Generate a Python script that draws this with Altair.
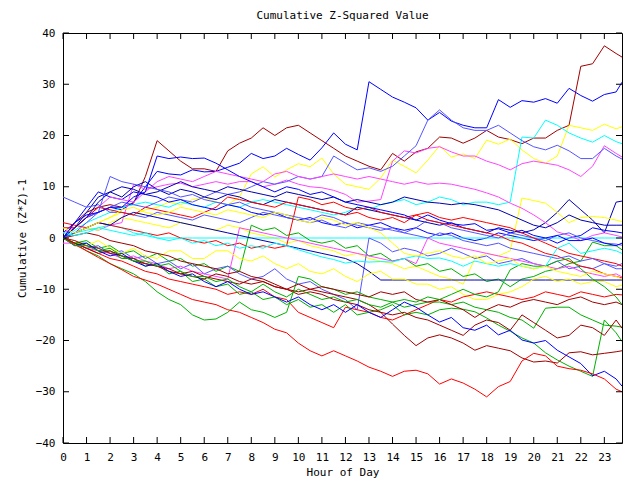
import altair as alt
import pandas as pd

hours = [0, 0.5, 1, 1.5, 2, 2.5, 3, 3.5, 4, 4.5, 5, 5.5, 6, 6.5, 7, 7.5, 8, 8.5, 9, 9.5,
         10, 10.5, 11, 11.5, 12, 12.5, 13, 13.5, 14, 14.5, 15, 15.5, 16, 16.5, 17, 17.5,
         18, 18.5, 19, 19.5, 20, 20.5, 21, 21.5, 22, 22.5, 23, 23.5, 23.75]
x_ticks = [0, 1, 2, 3, 4, 5, 6, 7, 8, 9, 10, 11, 12, 13, 14, 15, 16, 17, 18, 19, 20, 21, 22, 23]
y_ticks = [-40, -30, -20, -10, 0, 10, 20, 30, 40]

C_RED = "#ff0000"
C_GREEN = "#00b000"
C_BLUE = "#0000ff"
C_MAG = "#ff44ff"
C_CYAN = "#00ffff"
C_DRED = "#a00000"
C_YEL = "#ffff00"
C_MBLUE = "#5555ff"
C_DBLUE = "#0000b0"

s01 = [0, 3, 5, 6, 6.5, 6, 6.8, 12, 19, 17, 15, 13.5, 13.5, 13, 17, 18.5, 19.5, 21.5, 20, 21.5,
       22, 20.5, 19, 17.5, 16, 15, 14, 13.3, 16.5, 15, 16.8, 17.5, 19.7, 19.5, 18.5, 19.5, 21, 19.7, 19.2, 18.4,
       19.5, 19.5, 21, 22, 33.5, 34, 37.5, 36, 35.3]
s02 = [0, 2, 4, 5, 6, 5.5, 7, 10, 13, 12.5, 12.3, 13.3, 12.9, 13, 13.8, 14.6, 16.5, 15.5, 16, 17.5,
       16.3, 15.2, 17.6, 20.5, 18.3, 17.2, 30.5, 29, 27.5, 26.5, 25.4, 23, 24.5, 22.8, 22, 21.5, 21.5, 27, 25.5, 26.8,
       26.5, 27.2, 26.3, 29.2, 27.8, 26.7, 28, 28.5, 30.4]
s03 = [0, 1, 2, 3, 4, 5, 4.5, 5.5, 6, 7, 6.5, 7.5, 8, 7, 6.5, 8, 12.5, 13.9, 11.9, 13.3,
       14.5, 13.9, 15.6, 12.5, 10.5, 10, 9.5, 11.7, 15.2, 14, 12.7, 15.2, 18, 15.8, 16.4, 15.5, 19.1, 18.3, 19.3, 17.2,
       15.5, 14.6, 16, 22, 21.5, 21, 22.2, 21.3, 21.7]
s04 = [0, 1.5, 3, 4, 5, 6, 6.5, 7, 6.5, 6, 7, 6.5, 6, 7, 6.5, 6, 7, 7.5, 7, 6.5,
       6, 5.5, 5, 4.5, 5, 6, 5.5, 6.5, 7, 7.5, 6.5, 7, 8, 7.5, 6.5, 7, 7, 6.5, 7, 19.7,
       19.5, 23, 22, 20.5, 19.5, 18.7, 20, 18.8, 18.4]
s05 = [0, 1, 2, 1.5, 2.5, 3, 10.5, 9.5, 10, 10.5, 10.7, 10, 10.5, 11, 10.5, 11, 11, 10, 10.5, 11.3,
       10.5, 10, 9.8, 9.3, 8.5, 7, 7.2, 7.5, 15, 17, 16.6, 17.5, 17.8, 16.8, 16, 16, 15, 14.3, 13.3, 14.5,
       15, 14.6, 14.2, 13.3, 12, 14, 18, 16.5, 15.8]
s06 = [0, 2, 4, 5, 6, 7, 6.5, 6, 7, 8, 7.5, 7, 8, 9, 8.5, 9, 10, 11, 10.5, 11,
       12, 11.5, 12, 16, 14.6, 13.3, 13.7, 13, 14, 16, 18, 23, 25, 23, 21.5, 21, 21, 22, 20.5, 19,
       17.8, 17.2, 18.1, 17, 15.5, 15.5, 17.5, 16, 15.4]
s07 = [0, 2, 5, 8, 9, 8, 10, 11, 9.5, 8.5, 9.5, 9, 8, 7.5, 8.5, 8, 7, 6.5, 7.5, 7,
       6.5, 6, 5.5, 5, 4.5, 6, 5.5, 5, 4.5, 4, 3.5, 3, 2.5, 3, 2, 1.5, 1, 2, 1.5, 1,
       1.6, 3, 5, 7.5, 5.5, 3.5, 1, 7, 7.2]
s08 = [0, 1, 2, 1.5, 3, 4, 3.5, 3, 2.5, 2, 3, 2.5, 2, 1.5, 2.5, 2, 1, 0.5, 0, -1,
       -0.5, -1.5, -2, -2.5, -3.5, -3, -4, -4.5, -5, -6, -5.5, -6.5, -7.5, -8, -9, -4, -3, -3.5, -2.5, 7.8,
       7.3, 6.8, 5, 3, 4, 4.2, 4, 3.5, 3.2]
s09 = [1, 3, 6, 9, 8, 7.5, 9, 8.5, 8, 7, 7.5, 6.5, 6, 5.5, 6.5, 6, 5, 4.5, 5, 4,
       3.5, 4, 3, 2.5, 3, 2, 2.5, 3, 2, 1.5, 2, 1, 0.5, 1, 0, -0.5, 0, 1, 0.5, 0,
       -0.5, 0, -1, 0, 0.5, 2, 1.5, 1.2, 1.0]
s10 = [0, 1, 1.5, 2, 2.5, 2, 1, 0.5, 0, 0, 0, 0, 0, 0, 0, 0, 0, 0, 0, 0,
       0, 0, 0, 0, 0, 0, 0, 0, 0, 0, 0, 0, 0, 0, 0, 0, 0, 0, 0, 0,
       0, 0, 0, 0, 0, 0, 0, 0, 0]
s11 = [1, 2, 4, 6, 8, 7.5, 7, 9, 11, 12, 11.5, 11, 12, 13, 12.5, 12, 11.5, 11, 12.5, 13,
       12, 11.5, 12, 12.5, 12, 11.5, 12, 11.5, 11, 10.5, 11, 10.5, 10.7, 10.5, 10, 9.5, 8.8, 8, 6.8, 5.8,
       4.5, 3, 1.2, 0.5, -0.5, 0.5, 1, 0.5, 0.2]
s12 = [8, 7, 6, 6.5, 5, 5, 4.5, 4, 5, 4.5, 4, 3.5, 4.5, 4, 3.5, 3, 4, 5, 4.5, 4,
       3.5, 3, 3.5, 2.5, 2, 3, 2.5, 2, 1.5, 1, 2, 3.5, 3, 2, 1.5, 1, 0.5, 0, 1, 0.5,
       0, -0.5, 0.5, 1, 0, -0.5, -1, -1.2, -1.4]
s13 = [0, -1, -0.5, -2, -1.5, -3, -2.5, -4, -3, -4.5, -4, -5.5, -5, -6.5, -5.5, -6.5, 2.5, 1.5, 2, 0.5,
       1, -0.5, -1, -0.5, -2, -1.5, -3.5, -3, -4.5, -4, -5.5, -5, -6.5, -6, -7.5, -7, -8.5, -8, -9.5, -8,
       -7.5, -6.5, -6, -5, -4.5, -0.8, -1.5, -1.5, -2.3]
s14 = [0, -1, -2, -1.5, -3, -2.5, -4, -3.5, -5, -4.5, -6, -5, -7, -6, -5.5, -7, -8, -7.5, -6, -8,
       -9, -8.5, -10, -11, -12, -14, 0, -1, -2.7, -2, -2.5, -3.5, -3, -2, -3, -4, -3.5, -5, -4.5, -4,
       -5, -5.5, -4.5, -6, -5.5, -6, -5, -5.5, -5]
s15 = [3, 2.5, 2, 3, 2.5, 2, 1.5, 1, 0.5, 1, 0, -0.5, -1, -0.5, -1.5, -1, -2, -1.5, -2, -1.5,
       8, 7.5, 6.5, 7, 6, 5.5, 6, 5, 4.5, 4, 4.5, 3.5, 3, 2.5, 2, 1.5, 1, 0.5, -0.5, -1,
       -2, -3, -3.5, -4.5, -5.5, -6, -7, -7.5, -7.8]
s16 = [-1, -1, -2, -2.5, -3, -4, -3.5, -4.5, -5, -6, -5.5, -6.5, -7, -7.5, -8, 2, 1.5, 1, 0.5, 0,
       -0.5, -1, -1.5, -2, -2.5, -3, -3.5, -4, -4.5, -4, -5, 0, -1, -1.5, -2, -2.5, -3, -3.5, -4, -4.5,
       -5, -5.5, -6, -5.5, -6.5, -7, -7.5, -7, -7.6]
s17 = [0, 1, 2, 3, 2.5, 4, 5, 4.5, 4, 3.5, 3, 2.5, 2, 1.5, 1, 0.5, 0, -0.5, -1, -1.5,
       -2, -2.5, -3, -3.5, -4, -5, -6.5, -8.2, -8.2, -8.2, -8.2, -8.2, -8.2, -8.2, -8.2, -8.2, -8.2, -8.2, -8.2, -8.2,
       -8.2, -8.2, -8.2, -8.2, -8.2, -8.2, -8.2, -8.2, -8.2]
s18 = [0, -1, -1.5, -0.5, -2, -3, -2, -3.5, -4, -2.5, -2.5, -4, -4, -2.5, -2.5, -4, -4.5, -3.5, -5, -6,
       -5, -6.5, -7, -6, -7.5, -8.5, -7, -6.5, -8, -8, -9, -9, -10, -9.5, -11, -12, -12, -11, -10.5, -9.5,
       -8, -7.5, -8.5, -8, -9, -8.5, -8.5, -9.5, -9.2]
s19 = [0, -1, -2, -3, -4, -4.5, -5.5, -6.5, -7, -8, -8.5, -9, -9.5, -10, -11, -10.5, -11, -10, -11.5, -12,
       -14.5, -15.5, -16.5, -17.5, -13.5, -14, -14.5, -15.5, -16, -15, -14, -13, -12, -12.5, -11.5, -11, -10.5, -11, -11.5, -12,
       -11.5, -10.5, -11, -11.5, -10.5, -11, -11.5, -11, -11.1]
s20 = [0, -1, -2.5, -3.5, -5, -6, -7, -8.5, -10.5, -12, -13, -15, -16, -15.8, -14.5, -12.5, -14, -14.5, -15.5, -14.5,
       -7.5, -8, -9.5, -10, -11, -10.5, -11.5, -12, -12.5, -13.5, -13, -12.5, -12.5, -13, -12.5, -13.5, -14, -14.5, -15.5, -16,
       -17.6, -13.7, -13.5, -13.5, -15, -16, -17, -17.2, -17.4]
s21 = [0, -1, -1, -2.5, -2.5, -4, -4, -5.5, -5, -7, -6.5, -8.5, -8, -9.5, -9, -11, -10.5, -12, -11.5, -13,
       -12, -13.5, -13, -14.5, -13, -15, -14.5, -14, -13, -15, -14.5, -15, -14, -13.7, -13.9, -14.4, -15.6, -17, -18.2, -19.5,
       -20.5, -22.4, -23.8, -25, -26, -27, -16, -18.5, -20.2]
s22 = [0, -1, -2, -3, -2.5, -3.5, -4, -5, -5.5, -6, -7, -7.5, -8, -7, -7.5, -8.5, -9, -8.5, -9.5, -10,
       -11, -10.5, -11, -12, -12.5, -13, -14, -14.5, -15, -14.5, -15.5, -16, -17, -18, -19, -17, -16, -16.5, -18, -15,
       -16.5, -18, -19.5, -19, -17, -17.5, -19, -16, -17.6]
s23 = [0, -0.5, -1.5, -2, -3, -3.5, -4.5, -5, -5.5, -6.5, -7, -6.5, -7.5, -8, -8.5, -9, -8, -8.5, -9.5, -10,
       -9, -10, -10.5, -11, -11.5, -12, -13, -14.5, -16.8, -19, -21, -19.5, -18.9, -19.5, -20.5, -21.9, -21, -21.5, -22, -23.4,
       -24.2, -24, -24.4, -22.4, -22.2, -22.8, -22.5, -22.2, -22]
s24 = [0, -1.5, -1, -2.5, -3.5, -3, -4.5, -5.5, -5, -6.5, -7.5, -7, -8.5, -9.5, -8.5, -10, -11, -10.5, -11.5, -12.5,
       -11.5, -13, -14, -13, -14.5, -13, -14.5, -15.5, -14, -12.5, -13.5, -15, -16.4, -15.5, -17.5, -18, -17, -18.9, -18, -19.9,
       -20.5, -20, -21.9, -23.2, -24.5, -26.9, -26, -27.5, -28.9]
s25 = [0, -1.3, -2.5, -3.8, -5, -6.2, -7.5, -8.2, -9, -10, -11, -12, -12.5, -13, -14, -14.5, -15.5, -16.5, -17.8, -18.5,
       -20.5, -22, -23, -22, -23, -24, -25.2, -26, -27, -26, -25.8, -26.5, -28.5, -27.5, -28.3, -29.5, -31, -29, -28, -24,
       -22.5, -23, -25, -25.5, -25.8, -26.5, -27.5, -29.5, -30]
s26 = [2, 2, 4, 6, 5.5, 5, 4.5, 6, 5.5, 5, 4.5, 4, 5, 6, 8, 7.5, 7, 6.5, 6, 7,
       6.5, 6, 5.5, 5, 4.5, 5, 4, 3.5, 4, 3, 4.5, 5, 4, 3.5, 4, 3.5, 3, 2.5, 2, 1,
       0, -1, -2, -3, -3.5, -4, -4.5, -5, -5.5]
s27 = [0, 0.5, 1, 0.5, -0.5, -1, -1.5, -2.5, -3, -3.5, -4.5, -5, -5.5, -6, -7, -6.5, -7.5, -8, -9, -10,
       -10.5, -10, -9.5, -10, -10.5, -11, -11.5, -10.5, -11, -10.5, -12, -12.5, -12, -13, -14, -15.5, -14, -13, -13.5, -12.5,
       -12, -12.5, -13, -12, -11.5, -12.5, -13, -12.5, -13]
s28 = [0, -1.5, -1.5, -2.5, -2, -3.5, -4.5, -4.5, -5.5, -5, -6.5, -7.5, -7.5, -8.5, -8, -9.5, -10.5, -9, -10.5, -11.5,
       -10, -11, -12, -11.5, -12.5, -12, -13, -13.5, -12.5, -12, -12.5, -11.5, -12, -11, -10, -11, -11.5, -10.5, -6.2, -5,
       -5.5, -5.5, -4.5, -4, -6, -8, -9.5, -11.5, -13]
s29 = [0, 2, 4, 7, 9, 10, 9.5, 8.5, 9, 10, 11, 10, 9.5, 9, 10, 9.5, 9, 8.5, 8, 9,
       8.5, 8, 7.5, 8, 7, 7.5, 7, 6.5, 7, 8, 7.5, 7, 6.8, 6.5, 6.8, 6.5, 6, 5.5, 4.5, 3.5,
       2.5, 2, 3, 4.5, 3.5, 3, 2.5, 2.5, 2.5]
s30 = [0, 1, 3, 5, 12, 11, 10.5, 10, 9.5, 9, 8, 8.5, 7.5, 7, 6.5, 7, 6, 5.5, 5, 4.5,
       4, 3.5, 4.5, 4, 3, 2.5, 2, 1.5, 2, 1, 0.5, 0, 1, 0.5, -0.5, -1, -1.5, -1, -2, -2.5,
       -3, -3.5, -4, -3.5, -4.5, -4, -5, -6, -6]
s31 = [1, 0.5, 1, 2, 1.5, 1, 0.5, 1, 0, -0.5, 0, -1, -0.5, -1.5, -1, -2, -1.5, -2, -1, -1.5,
       -2.3, -3, -3.7, -4.2, -4.9, -4.5, -4.7, -4.6, -4.7, -4, -3.5, -4, -3.9, -4.5, -5.5, -4.5, -5, -5.5, -5, -5.5,
       -6, -5.5, -2, -1, -3, -2.5, -2, -2.5, -3]
s32 = [2, 1, 2, 3, 4, 5.5, 6, 5, 4.5, 5, 6, 5.5, 5, 4.5, 5.5, 5, 4.5, 4, 5, 4.5,
       3.5, 3, 4, 3.5, 2.5, 3, 2, 1, -1, -3, -3.5, -3, -2.5, -3.5, -4, -3.5, -5, -4.5, -4, -5.5,
       -6, -5.5, -6.5, -7, -7.5, -6.5, -7, -7.5, -8]
s33 = [0, 3, 4.5, 5, 6, 6, 8, 9, 16, 15.5, 15.8, 15.5, 15.6, 14.6, 13.3, 12, 11, 10, 9, 10,
       9.5, 8.5, 9, 8, 7, 6.5, 6, 5.5, 5, 4.5, 3.5, 4.5, 3.5, 2.8, 2.5, 2.8, 1.5, 1.8, 1, 1.5,
       0.5, 0, 0.5, -0.5, -0.5, 0, -1, -1.5, -1]

series = [
    ("s01", C_DRED, s01), ("s02", C_BLUE, s02), ("s03", C_YEL, s03), ("s04", C_CYAN, s04),
    ("s05", C_MAG, s05), ("s06", C_MBLUE, s06), ("s07", C_DBLUE, s07), ("s08", C_YEL, s08),
    ("s09", C_BLUE, s09), ("s10", C_CYAN, s10), ("s11", C_MAG, s11), ("s12", C_MBLUE, s12),
    ("s13", C_GREEN, s13), ("s14", C_MBLUE, s14), ("s15", C_RED, s15), ("s16", C_MAG, s16),
    ("s17", C_DBLUE, s17), ("s18", C_YEL, s18), ("s19", C_RED, s19), ("s20", C_GREEN, s20),
    ("s21", C_GREEN, s21), ("s22", C_DRED, s22), ("s23", C_DRED, s23), ("s24", C_BLUE, s24),
    ("s25", C_RED, s25), ("s26", C_RED, s26), ("s27", C_DRED, s27), ("s28", C_GREEN, s28),
    ("s29", C_DBLUE, s29), ("s30", C_MBLUE, s30), ("s31", C_CYAN, s31), ("s32", C_YEL, s32),
    ("s33", C_BLUE, s33),
]

rows = []
for name, color, vals in series:
    assert len(vals) == len(hours), (name, len(vals))
    for h, v in zip(hours, vals):
        rows.append({"series": name, "hour": h, "value": v})
df = pd.DataFrame(rows)

names = [s[0] for s in series]
colors = [s[1] for s in series]

FONT = "DejaVu Sans Mono"
W, H = 559, 410

xscale = alt.Scale(domain=[0, 23.75], nice=False, zero=False)
yscale = alt.Scale(domain=[-40, 40], nice=False, zero=False)
xaxis = alt.Axis(values=x_ticks, title="Hour of Day", labelPadding=8, titlePadding=4,
                 labelFlush=False, labelOverlap=False)
yaxis = alt.Axis(values=y_ticks, title="Cumulative (Z*Z)-1", labelPadding=8, titlePadding=8,
                 labelFlush=False, labelOverlap=False)

lines = alt.Chart(df).mark_line(strokeWidth=1, clip=True).encode(
    x=alt.X("hour:Q", scale=xscale, axis=xaxis),
    y=alt.Y("value:Q", scale=yscale, axis=yaxis),
    color=alt.Color("series:N", scale=alt.Scale(domain=names, range=colors), legend=None),
    detail="series:N",
)

yt = pd.DataFrame({"value": y_ticks})
xt = pd.DataFrame({"hour": x_ticks})

tick_left = alt.Chart(yt).mark_rule(color="black", strokeWidth=1).encode(
    y=alt.Y("value:Q", scale=yscale, axis=yaxis), x=alt.value(0), x2=alt.value(6))
tick_right = alt.Chart(yt).mark_rule(color="black", strokeWidth=1).encode(
    y=alt.Y("value:Q", scale=yscale, axis=yaxis), x=alt.value(W - 6), x2=alt.value(W))
tick_bottom = alt.Chart(xt).mark_rule(color="black", strokeWidth=1).encode(
    x=alt.X("hour:Q", scale=xscale, axis=xaxis), y=alt.value(H - 6), y2=alt.value(H))
tick_top = alt.Chart(xt).mark_rule(color="black", strokeWidth=1).encode(
    x=alt.X("hour:Q", scale=xscale, axis=xaxis), y=alt.value(0), y2=alt.value(6))

chart = alt.layer(lines, tick_left, tick_right, tick_bottom, tick_top).properties(
    width=W, height=H,
    title=alt.TitleParams("Cumulative Z-Squared Value", offset=6),
    autosize="none",
    padding={"left": 63, "top": 33, "right": 18, "bottom": 37},
    background="white",
).configure_view(
    stroke="black", strokeWidth=1
).configure_axis(
    domain=False, grid=False, ticks=False,
    labelFont=FONT, labelFontSize=11, labelColor="black",
    titleFont=FONT, titleFontSize=11, titleFontWeight="normal", titleColor="black",
).configure_title(
    font=FONT, fontSize=11, fontWeight="normal", color="black", anchor="middle"
)

chart.save("out.html", embed_options={"renderer": "svg", "actions": False})
